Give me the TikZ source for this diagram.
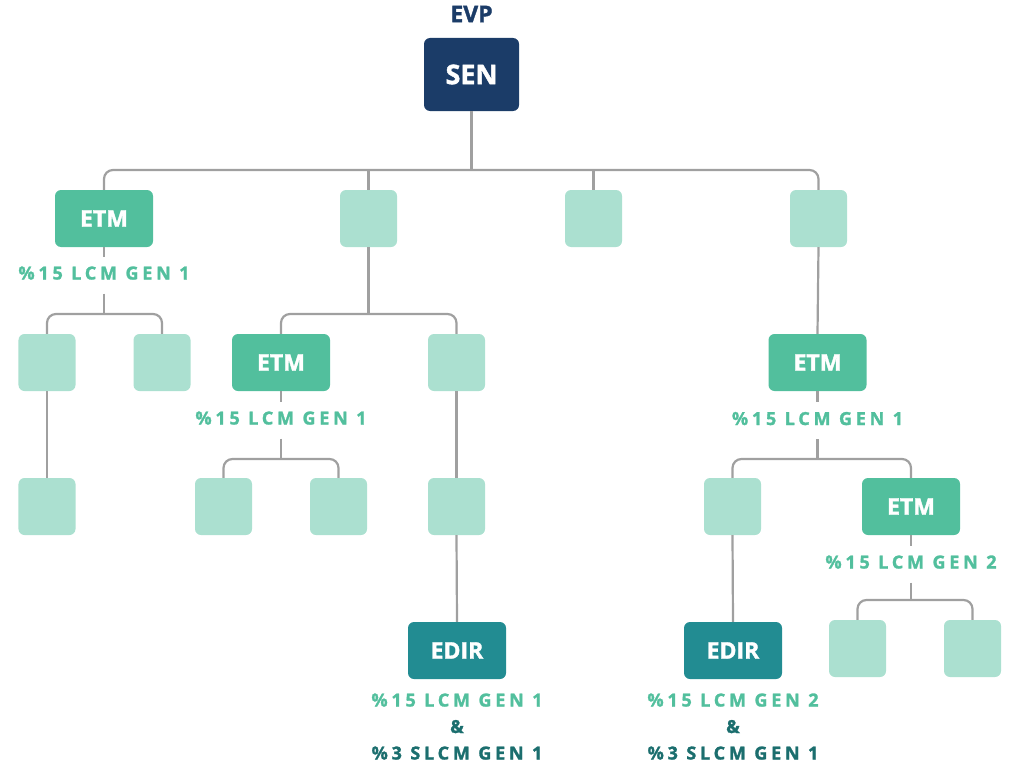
\documentclass[tikz,border=0pt]{standalone}
\usepackage{fontspec}
\setmainfont{Open Sans}[BoldFont={Open Sans Bold}, BoldFeatures={FakeBold=1.5}]
\newfontfamily\spacedfont{Open Sans}[BoldFont={Open Sans Bold}, BoldFeatures={FakeBold=1.5}, LetterSpace=21]
\definecolor{navy}{HTML}{1B3C68}
\definecolor{etmgreen}{HTML}{52BF9D}
\definecolor{lightgreen}{HTML}{ABE0D0}
\definecolor{edirteal}{HTML}{228C92}
\definecolor{darkteal}{HTML}{1B6E6E}
\definecolor{linegray}{HTML}{A0A0A0}
\tikzset{
  box/.style={rounded corners=6bp, inner sep=0pt, text=white, font=\fontsize{23bp}{26bp}\selectfont\bfseries},
  senbox/.style={box, fill=navy, minimum width=95bp, minimum height=73bp, font=\fontsize{27bp}{30bp}\selectfont\bfseries},
  etmbox/.style={box, fill=etmgreen, minimum width=98bp, minimum height=57bp},
  edirbox/.style={box, fill=edirteal, minimum width=98bp, minimum height=57bp},
  emptybox/.style={box, fill=lightgreen, minimum width=57bp, minimum height=57bp},
  lab/.style={anchor=base, inner sep=0pt, text height=22.5bp, text depth=14bp, text=etmgreen, font=\fontsize{18bp}{20bp}\spacedfont\bfseries},
  darklab/.style={lab, text=darkteal},
  conn/.style={draw=linegray, line width=2.2bp},
  bus/.style={conn, rounded corners=9bp},
}
\begin{document}
\begin{tikzpicture}[x=1bp,y=-1bp]
\useasboundingbox (0,0) rectangle (1010,766);
% top
\node[inner sep=0pt, text=navy, font=\fontsize{23bp}{26bp}\selectfont\bfseries] (evp) at (471.5,14) {EVP};
\node[senbox] (sen) at (471.5,74.5) {SEN};
% level 1
\node[etmbox] (etmA) at (104,218.5) {ETM};
\node[emptybox] (l1b) at (368.5,218.5) {};
\node[emptybox] (l1c) at (593.5,218.5) {};
\node[emptybox] (l1d) at (818.5,218.5) {};
\node[lab] (labA) at (104,279.5) {\%15 LCM GEN 1};
% level 2
\node[emptybox] (l2a) at (47,362.5) {};
\node[emptybox] (l2b) at (162,362.5) {};
\node[etmbox] (etmB) at (281,362.5) {ETM};
\node[emptybox] (l2d) at (456.5,362.5) {};
\node[etmbox] (etmC) at (817.5,362.5) {ETM};
\node[lab] (labB) at (281,424.5) {\%15 LCM GEN 1};
\node[lab] (labC) at (817.5,425) {\%15 LCM GEN 1};
% level 3
\node[emptybox] (l3a) at (47,506.5) {};
\node[emptybox] (l3b) at (223.5,506.5) {};
\node[emptybox] (l3c) at (338.5,506.5) {};
\node[emptybox] (l3d) at (456.5,506.5) {};
\node[emptybox] (l3e) at (732.5,506.5) {};
\node[etmbox] (etmD) at (911,506.5) {ETM};
\node[lab] (labD) at (911,568.5) {\%15 LCM GEN 2};
% level 4
\node[emptybox] (l4a) at (857.5,648.5) {};
\node[emptybox] (l4b) at (972.5,648.5) {};
\node[edirbox] (edirA) at (457,650.5) {EDIR};
\node[edirbox] (edirB) at (733,650.5) {EDIR};
\node[lab] (edirAa) at (457,706.5) {\%15 LCM GEN 1};
\node[darklab] (edirAb) at (457,733) {\&};
\node[darklab] (edirAc) at (457,759.5) {\%3 SLCM GEN 1};
\node[lab] (edirBa) at (733,706.5) {\%15 LCM GEN 2};
\node[darklab] (edirBb) at (733,733) {\&};
\node[darklab] (edirBc) at (733,759.5) {\%3 SLCM GEN 1};
% bus coordinates
\coordinate (bus1) at (471.5,170);
\coordinate (busA) at (104,314);
\coordinate (busB) at (368.5,314);
\coordinate (busC) at (281,459);
\coordinate (busD) at (817.5,459);
\coordinate (busE) at (911,600);
% connectors
\draw[conn] (sen.south) -- (bus1);
\draw[bus] (etmA.north) |- (bus1) -| (l1d.north);
\draw[conn] (l1b.north) -- (l1b.north |- bus1);
\draw[conn] (l1c.north) -- (l1c.north |- bus1);
\draw[conn] (etmA.south) -- (labA.north);
\draw[conn] (labA.south) -- (busA);
\draw[bus] (l2a.north) |- (busA) -| (l2b.north);
\draw[conn] (l1b.south) -- (busB);
\draw[bus] (etmB.north) |- (busB) -| (l2d.north);
\draw[conn] (l1d.south) -- (etmC.north);
\draw[conn] (l2a.south) -- (l3a.north);
\draw[conn] (etmB.south) -- (labB.north);
\draw[conn] (labB.south) -- (busC);
\draw[bus] (l3b.north) |- (busC) -| (l3c.north);
\draw[conn] (l2d.south) -- (l3d.north);
\draw[conn] (l3d.south) -- (edirA.north);
\draw[conn] (etmC.south) -- (labC.north);
\draw[conn] (labC.south) -- (busD);
\draw[bus] (l3e.north) |- (busD) -| (etmD.north);
\draw[conn] (l3e.south) -- (edirB.north);
\draw[conn] (etmD.south) -- (labD.north);
\draw[conn] (labD.south) -- (busE);
\draw[bus] (l4a.north) |- (busE) -| (l4b.north);
\end{tikzpicture}
\end{document}
